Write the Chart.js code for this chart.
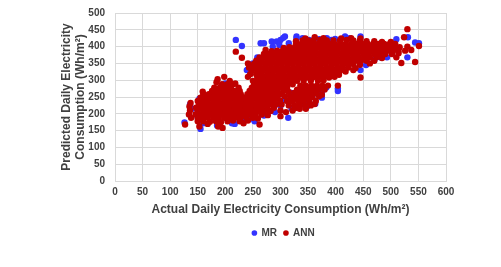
<!DOCTYPE html>
<html>
<head>
<meta charset="utf-8">
<title>Predicted vs actual daily electricity consumption</title>
<script src="https://cdn.jsdelivr.net/npm/chart.js@4"></script>
<style>
  html, body { margin: 0; padding: 0; background: #fff; }
  #wrap { width: 501px; height: 267px; }
</style>
</head>
<body>
<div id="wrap"><canvas id="scatterChart" width="501" height="267"></canvas></div>
<script>
const xTicks = [0, 50, 100, 150, 200, 250, 300, 350, 400, 450, 500, 550, 600];
const yTicks = [0, 50, 100, 150, 200, 250, 300, 350, 400, 450, 500];
const seriesNames = ["MR", "ANN"];

// [actual, predicted]
const mrPoints = [
  [126,174],[136,228],[140,215],[153,245],[155,155],[160,172],[150,190],[185,165],[200,290],[212,172],
  [217,170],[219,420],[230,402],[253,178],[239,330],[241,332],[258,368],[264,410],[270,410],[273,375],[284,415],
  [293,415],[300,420],[308,430],[305,426],[314,188],[329,425],[329,430],[340,425],[348,222],[363,230],[364,268],
  [366,270],[375,248],[383,278],[384,425],[392,420],[399,423],[404,268],[404,275],[417,430],[425,425],[445,430],[445,330],
  [481,368],[493,368],[510,422],[531,428],[530,368],[544,412],[551,410],[320,215],[305,240],[335,225],
  [290,205],[270,195],[245,185],[230,180],[352,420],[370,422],[455,345],[470,360],[252,215],[268,205],[238,240],
  [300,225],[345,235],[358,255],[320,262],[375,262],[262,335],[250,350],[286,400],[298,405],[315,410]
];
const annPoints = [
  [127,168],[153,162],[168,170],[187,162],[195,158],[233,172],[262,168],
  [150,178],[160,178],[172,176],[183,178],[192,175],[204,178],[214,180],[226,178],[241,180],
  [138,188],[150,186],[158,188],[168,188],[178,188],[188,186],[198,188],[208,188],[218,188],[228,188],[238,190],[250,188],[259,186],
  [134,198],[146,198],[155,198],[165,198],[175,198],[185,198],[195,198],[205,198],[215,198],[225,198],[235,198],[245,198],[255,198],[266,198],[277,196],
  [136,210],[150,208],[160,208],[170,208],[180,208],[190,208],[200,208],[210,208],[220,208],[230,208],[240,208],[250,208],[260,208],[270,208],[282,208],
  [135,222],[147,218],[156,218],[166,218],[176,218],[186,218],[196,218],[206,218],[216,218],[226,218],[236,218],[246,218],[256,218],[266,218],[276,218],[288,218],
  [137,232],[152,228],[162,228],[172,228],[182,228],[192,228],[202,228],[212,228],[222,228],[232,228],[242,228],[252,228],[262,228],[272,228],[282,228],[292,228],
  [150,238],[158,238],[168,238],[178,238],[188,238],[198,238],[208,238],[218,238],[228,238],[238,238],[248,238],[258,238],[268,238],[278,238],[288,238],
  [155,248],[164,248],[174,248],[184,248],[194,248],[204,248],[214,248],[224,248],[234,248],[244,248],[254,248],[264,248],[274,248],[284,248],[294,248],
  [160,258],[170,258],[180,258],[190,258],[200,258],[210,258],[220,258],[228,258],[240,258],[250,258],[260,258],[270,258],[280,258],[290,258],[299,258],
  [159,266],[176,268],[186,268],[196,268],[206,268],[216,268],[226,268],[244,268],[254,268],[264,268],[274,268],[284,268],[294,268],
  [180,278],[190,278],[200,278],[210,278],[224,278],[248,278],[258,278],[268,278],[278,278],[288,278],[298,278],[306,278],
  [184,294],[194,288],[204,288],[214,288],[218,290],[252,288],[262,288],[272,288],[282,288],[292,288],[302,288],[312,288],
  [186,303],[198,310],[208,298],[250,298],[260,298],[270,298],[280,298],[290,298],[300,298],[310,298],[320,298],[330,298],[342,298],[355,298],[368,298],[378,300],
  [241,310],[258,308],[268,308],[278,308],[288,308],[298,308],[308,308],[318,308],[328,308],[338,308],[348,308],[358,308],[368,308],[378,308],[388,308],[398,310],[445,308],
  [245,318],[256,318],[266,318],[276,318],[286,318],[296,318],[306,318],[316,318],[326,318],[336,318],[346,318],[356,318],[366,318],[376,318],[386,318],[396,318],[406,316],
  [248,328],[258,328],[268,328],[278,328],[288,328],[298,328],[308,328],[318,328],[328,328],[338,328],[348,328],[358,328],[368,328],[378,328],[388,328],[398,328],[408,328],[418,326],[432,330],
  [243,338],[253,338],[263,338],[273,338],[283,338],[293,338],[303,338],[313,338],[323,338],[333,338],[343,338],[353,338],[363,338],[373,338],[383,338],[393,338],[403,338],[413,338],[423,338],[436,336],
  [241,350],[252,348],[262,348],[272,348],[282,348],[292,348],[302,348],[312,348],[322,348],[332,348],[342,348],[352,348],[362,348],[372,348],[382,348],[392,348],[402,348],[412,348],[422,348],[432,348],[444,346],[462,350],
  [256,358],[266,358],[276,358],[286,358],[296,358],[306,358],[316,358],[326,358],[336,358],[346,358],[356,358],[366,358],[376,358],[386,358],[396,358],[406,358],[416,358],[426,358],[436,358],[446,358],[456,358],[470,358],
  [230,367],[262,368],[272,368],[282,368],[292,368],[302,368],[312,368],[322,368],[332,368],[342,368],[352,368],[362,368],[372,368],[382,368],[392,368],[402,368],[412,368],[422,368],[432,368],[442,368],[452,368],[462,368],[474,368],[484,366],[510,368],[519,351],[544,354],
  [270,378],[280,378],[290,378],[300,378],[310,378],[320,378],[330,378],[340,378],[350,378],[360,378],[370,378],[380,378],[390,378],[400,378],[410,378],[420,378],[430,378],[440,378],[450,378],[460,378],[470,378],[480,378],[490,378],[502,378],[514,380],
  [219,385],[273,390],[284,386],[294,388],[304,388],[314,388],[324,388],[334,388],[344,388],[354,388],[364,388],[374,388],[384,388],[394,388],[404,388],[414,388],[424,388],[434,388],[444,388],[454,388],[464,388],[474,388],[484,388],[494,388],[504,388],[514,388],[526,388],[537,390],
  [306,396],[316,398],[326,398],[336,398],[346,398],[356,398],[366,398],[376,398],[386,398],[396,398],[406,398],[416,398],[426,398],[436,398],[446,398],[456,398],[466,398],[476,398],[486,398],[496,398],[506,398],[516,398],[530,400],[551,402],
  [328,408],[338,408],[348,408],[358,408],[368,408],[378,408],[388,408],[398,408],[408,408],[418,408],[428,408],[438,408],[448,408],[458,408],[468,408],[478,408],[488,408],[498,408],[508,408],
  [328,416],[340,418],[350,418],[360,418],[372,420],[384,418],[396,418],[408,418],[420,420],[432,418],[444,418],[456,416],[470,416],[484,414],[500,414],
  [345,424],[362,428],[378,425],[410,424],[428,425],[445,424],[524,428],[530,452],
  [336,284],[346,284],[356,284],[366,284],[376,284],[386,284],[404,284],
  [340,272],[350,272],[360,272],[370,272],[380,272],
  [335,262],[345,262],[355,262],[365,262],[375,257],
  [318,250],[328,250],[338,250],[348,250],[358,250],[370,252],
  [312,238],[322,238],[332,238],[342,238],[352,238],[364,238],
  [315,225],[325,225],[335,225],[345,225],[355,225],[362,229],
  [327,217],[346,215],[300,193],[277,212],[299,240],[302,228],
  [305,268],[315,265],[325,262],[308,252],[312,278],[322,288],[330,272],[336,262],[300,210],[310,205],[322,210],[335,215]
];

const toXY = p => ({ x: p[0], y: p[1] });
const gridColor = "#d9d9d9";
const textColor = "#404040";
const fontFamily = "'Liberation Sans', Arial, sans-serif";

// legend sits right of the chart centre in the original
const shiftLegend = {
  id: "shiftLegend",
  afterLayout(chart) {
    chart.legend.left += 31;
    chart.legend.right += 31;
  }
};

new Chart(document.getElementById("scatterChart"), {
  type: "scatter",
  data: {
    datasets: [
      { label: seriesNames[0], data: mrPoints.map(toXY), backgroundColor: "#3333ff", borderWidth: 0, pointRadius: 3.2, order: 2 },
      { label: seriesNames[1], data: annPoints.map(toXY), backgroundColor: "#c00000", borderWidth: 0, pointRadius: 3.2, order: 1 }
    ]
  },
  plugins: [shiftLegend],
  options: {
    responsive: false,
    animation: false,
    layout: { padding: { left: 59, right: 55, top: 13, bottom: 19 } },
    plugins: {
      tooltip: { enabled: false },
      legend: {
        position: "bottom",
        labels: {
          usePointStyle: true,
          pointStyle: "circle",
          boxWidth: 4,
          boxHeight: 4,
          padding: 7,
          color: textColor,
          font: { family: fontFamily, size: 10, weight: "bold" },
          sort: (a, b) => a.datasetIndex - b.datasetIndex
        }
      }
    },
    scales: {
      x: {
        min: 0,
        max: 600,
        afterBuildTicks: axis => { axis.ticks = xTicks.map(v => ({ value: v })); },
        afterFit: axis => { axis.height = 40; },
        grid: { color: gridColor, tickLength: 0 },
        border: { color: gridColor },
        ticks: { color: textColor, padding: 5, maxRotation: 0, font: { family: fontFamily, size: 10, weight: "bold" } },
        title: { display: true, text: "Actual Daily Electricity Consumption (Wh/m²)", color: textColor, padding: { top: 0, bottom: 4 }, font: { family: fontFamily, size: 12, weight: "bold" } }
      },
      y: {
        min: 0,
        max: 500,
        afterBuildTicks: axis => { axis.ticks = yTicks.map(v => ({ value: v })); },
        afterFit: axis => { axis.width = 56; axis.paddingTop = 0; },
        grid: { color: gridColor, tickLength: 0 },
        border: { color: gridColor },
        ticks: { color: textColor, padding: 10, font: { family: fontFamily, size: 10, weight: "bold" } },
        title: { display: true, text: ["Predicted Daily Electricity", "Consumption (Wh/m²)"], color: textColor, padding: { top: 0, bottom: 0 }, font: { family: fontFamily, size: 12, weight: "bold", lineHeight: 1.2 } }
      }
    }
  }
});
</script>
</body>
</html>
